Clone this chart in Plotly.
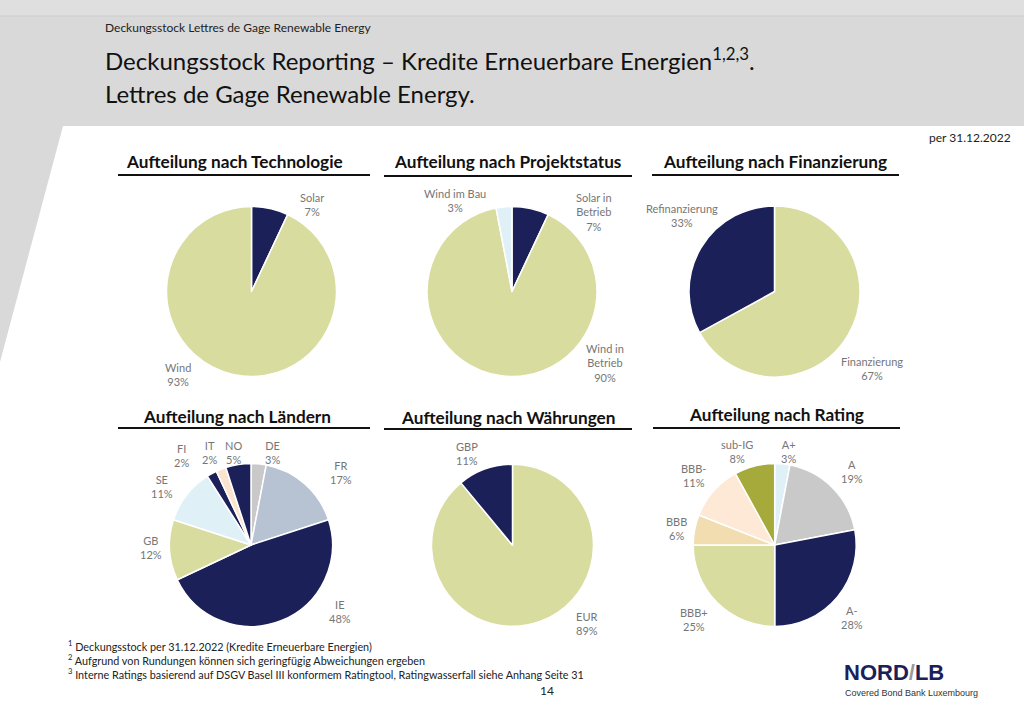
import plotly.graph_objects as go

W, H = 1024, 709

# ---------------- data ----------------
tech_labels = ["Solar", "Wind"]
tech_values = [7, 93]

status_labels = ["Solar in<br>Betrieb", "Wind in<br>Betrieb", "Wind im Bau"]
status_values = [7, 90, 3]

fin_labels = ["Finanzierung", "Refinanzierung"]
fin_values = [67, 33]

country_labels = ["DE", "FR", "IE", "GB", "SE", "FI", "IT", "NO"]
country_values = [3, 17, 48, 12, 11, 2, 2, 5]

currency_labels = ["EUR", "GBP"]
currency_values = [89, 11]

rating_labels = ["A+", "A", "A-", "BBB+", "BBB", "BBB-", "sub-IG"]
rating_values = [3, 19, 28, 25, 6, 11, 8]

# ---------------- styles ----------------
NAVY = "#1c2058"
YEL = "#d9dc9f"
CYAN = "#dff1f7"
GRAY = "#c9c9c9"
STEEL = "#b7c3d3"
PEACH = "#fbe4cf"
PEACH2 = "#fde9d6"
TAN = "#f1ddb0"
OLIVE = "#a6aa3b"

tech_colors = [NAVY, YEL]
status_colors = [NAVY, YEL, CYAN]
fin_colors = [YEL, NAVY]
country_colors = [GRAY, STEEL, NAVY, YEL, CYAN, NAVY, PEACH, NAVY]
currency_colors = [YEL, NAVY]
rating_colors = [CYAN, GRAY, NAVY, YEL, TAN, PEACH2, OLIVE]

# pie placement (pixel centre, radius)
pies = [
    (tech_labels, tech_values, tech_colors, (251.5, 291.5, 85)),
    (status_labels, status_values, status_colors, (512, 291.5, 85)),
    (fin_labels, fin_values, fin_colors, (774.5, 291.5, 85.5)),
    (country_labels, country_values, country_colors, (251, 545, 81.5)),
    (currency_labels, currency_values, currency_colors, (512.5, 545.3, 81)),
    (rating_labels, rating_values, rating_colors, (774.7, 545, 81.5)),
]

# data label positions (pixel), in order of the pie's labels
label_pos = [
    [(312, 204), (178, 375)],
    [(594, 212), (605, 363), (455, 200)],
    [(872, 368), (682, 216)],
    [(272, 452), (341, 472), (340, 611), (151, 547), (162, 486), (181, 455), (209, 452), (233, 452)],
    [(587, 623), (467, 453)],
    [(788, 451), (852, 471), (852, 617), (694, 619), (676, 528), (693, 476), (737, 451)],
]

titles = [
    ("Aufteilung nach Technologie", 234, 162, 118, 370, 175),
    ("Aufteilung nach Projektstatus", 507, 162, 384, 632, 176),
    ("Aufteilung nach Finanzierung", 775, 162, 652, 899, 175),
    ("Aufteilung nach Ländern", 237, 416, 118, 370, 428),
    ("Aufteilung nach Währungen", 508, 417, 384, 632, 429),
    ("Aufteilung nach Rating", 776, 414, 653, 900, 428),
]

FONT = "Lato"


def px(x):
    return x / W


def py(y):
    return 1 - y / H


fig = go.Figure()

annotations = []
shapes = []

for (labels, values, colors, (cx, cy, r)), pos in zip(pies, label_pos):
    fig.add_trace(go.Pie(
        labels=labels, values=values, sort=False, direction="clockwise", rotation=0,
        marker=dict(colors=colors, line=dict(color="white", width=1.5)),
        textinfo="none", hoverinfo="label+percent", showlegend=False,
        domain=dict(x=[px(cx - r), px(cx + r)], y=[py(cy + r), py(cy - r)]),
    ))
    for lab, val, (lx, ly) in zip(labels, values, pos):
        annotations.append(dict(
            x=px(lx), y=py(ly), xref="paper", yref="paper", showarrow=False,
            text=f"{lab}<br>{val}%", xanchor="center", yanchor="middle",
            font=dict(family=FONT, size=11, color="#767676"), align="center",
        ))

for t, tx, ty, x0, x1, ly in titles:
    annotations.append(dict(
        x=px(tx), y=py(ty), xref="paper", yref="paper", showarrow=False, text=f"<b>{t}</b>",
        xanchor="center", yanchor="middle", font=dict(family=FONT, size=17.2, color="#111111"),
    ))
    shapes.append(dict(type="line", xref="paper", yref="paper", x0=px(x0), x1=px(x1),
                       y0=py(ly), y1=py(ly), line=dict(color="#111111", width=2)))

# background shapes
shapes = [
    dict(type="rect", xref="paper", yref="paper", x0=0, x1=1, y0=py(16), y1=1,
         fillcolor="#dfdfdf", line=dict(width=0), layer="below"),
    dict(type="line", xref="paper", yref="paper", x0=0, x1=1, y0=py(16), y1=py(16),
         line=dict(color="#cbcbcb", width=1), layer="below"),
    dict(type="path", xref="paper", yref="paper",
         path=f"M {px(63)} {py(126)} L 1 {py(126)} L 1 0 L 0 0 L 0 {py(362)} Z",
         fillcolor="white", line=dict(width=0), layer="below"),
] + shapes

# header / footer texts
extra = [
    dict(x=px(103), y=py(27), text="Deckungsstock Lettres de Gage Renewable Energy",
         font=dict(family=FONT, size=12, color="#222222"), xanchor="left"),
    dict(x=px(103), y=py(59), text="Deckungsstock Reporting – Kredite Erneuerbare Energien<sup>1,2,3</sup>.",
         font=dict(family=FONT, size=24, color="#111111"), xanchor="left"),
    dict(x=px(103), y=py(93), text="Lettres de Gage Renewable Energy.",
         font=dict(family=FONT, size=24, color="#111111"), xanchor="left"),
    dict(x=px(1013), y=py(137), text="per 31.12.2022",
         font=dict(family=FONT, size=12, color="#222222"), xanchor="right"),
    dict(x=px(66), y=py(646), text="<sup>1</sup> Deckungsstock per 31.12.2022 (Kredite Erneuerbare Energien)",
         font=dict(family=FONT, size=10.8, color="#222222"), xanchor="left"),
    dict(x=px(66), y=py(660), text="<sup>2</sup> Aufgrund von Rundungen können sich geringfügig Abweichungen ergeben",
         font=dict(family=FONT, size=10.8, color="#222222"), xanchor="left"),
    dict(x=px(66), y=py(674), text="<sup>3</sup> Interne Ratings basierend auf DSGV Basel III konformem Ratingtool, Ratingwasserfall siehe Anhang Seite 31",
         font=dict(family=FONT, size=10.8, color="#222222"), xanchor="left"),
    dict(x=px(547), y=py(690), text="14", font=dict(family=FONT, size=12, color="#222222"), xanchor="center"),
    dict(x=px(842), y=py(672), text="<b>NORD<span style='color:#9a9a9a'>/</span>LB</b>",
         font=dict(family="Liberation Sans", size=22, color="#1c2058"), xanchor="left"),
    dict(x=px(843), y=py(693), text="Covered Bond Bank Luxembourg",
         font=dict(family="Liberation Sans", size=9, color="#333333"), xanchor="left"),
]
for a in extra:
    a.update(xref="paper", yref="paper", showarrow=False, yanchor="middle")
annotations += extra

fig.update_layout(
    width=W, height=H, margin=dict(l=0, r=0, t=0, b=0),
    paper_bgcolor="#d9d9d9", plot_bgcolor="#d9d9d9",
    annotations=annotations, shapes=shapes,
)

fig.write_html("out.html", config={"displayModeBar": False},
               post_script="document.body.style.margin='0';document.body.style.overflow='hidden';")
